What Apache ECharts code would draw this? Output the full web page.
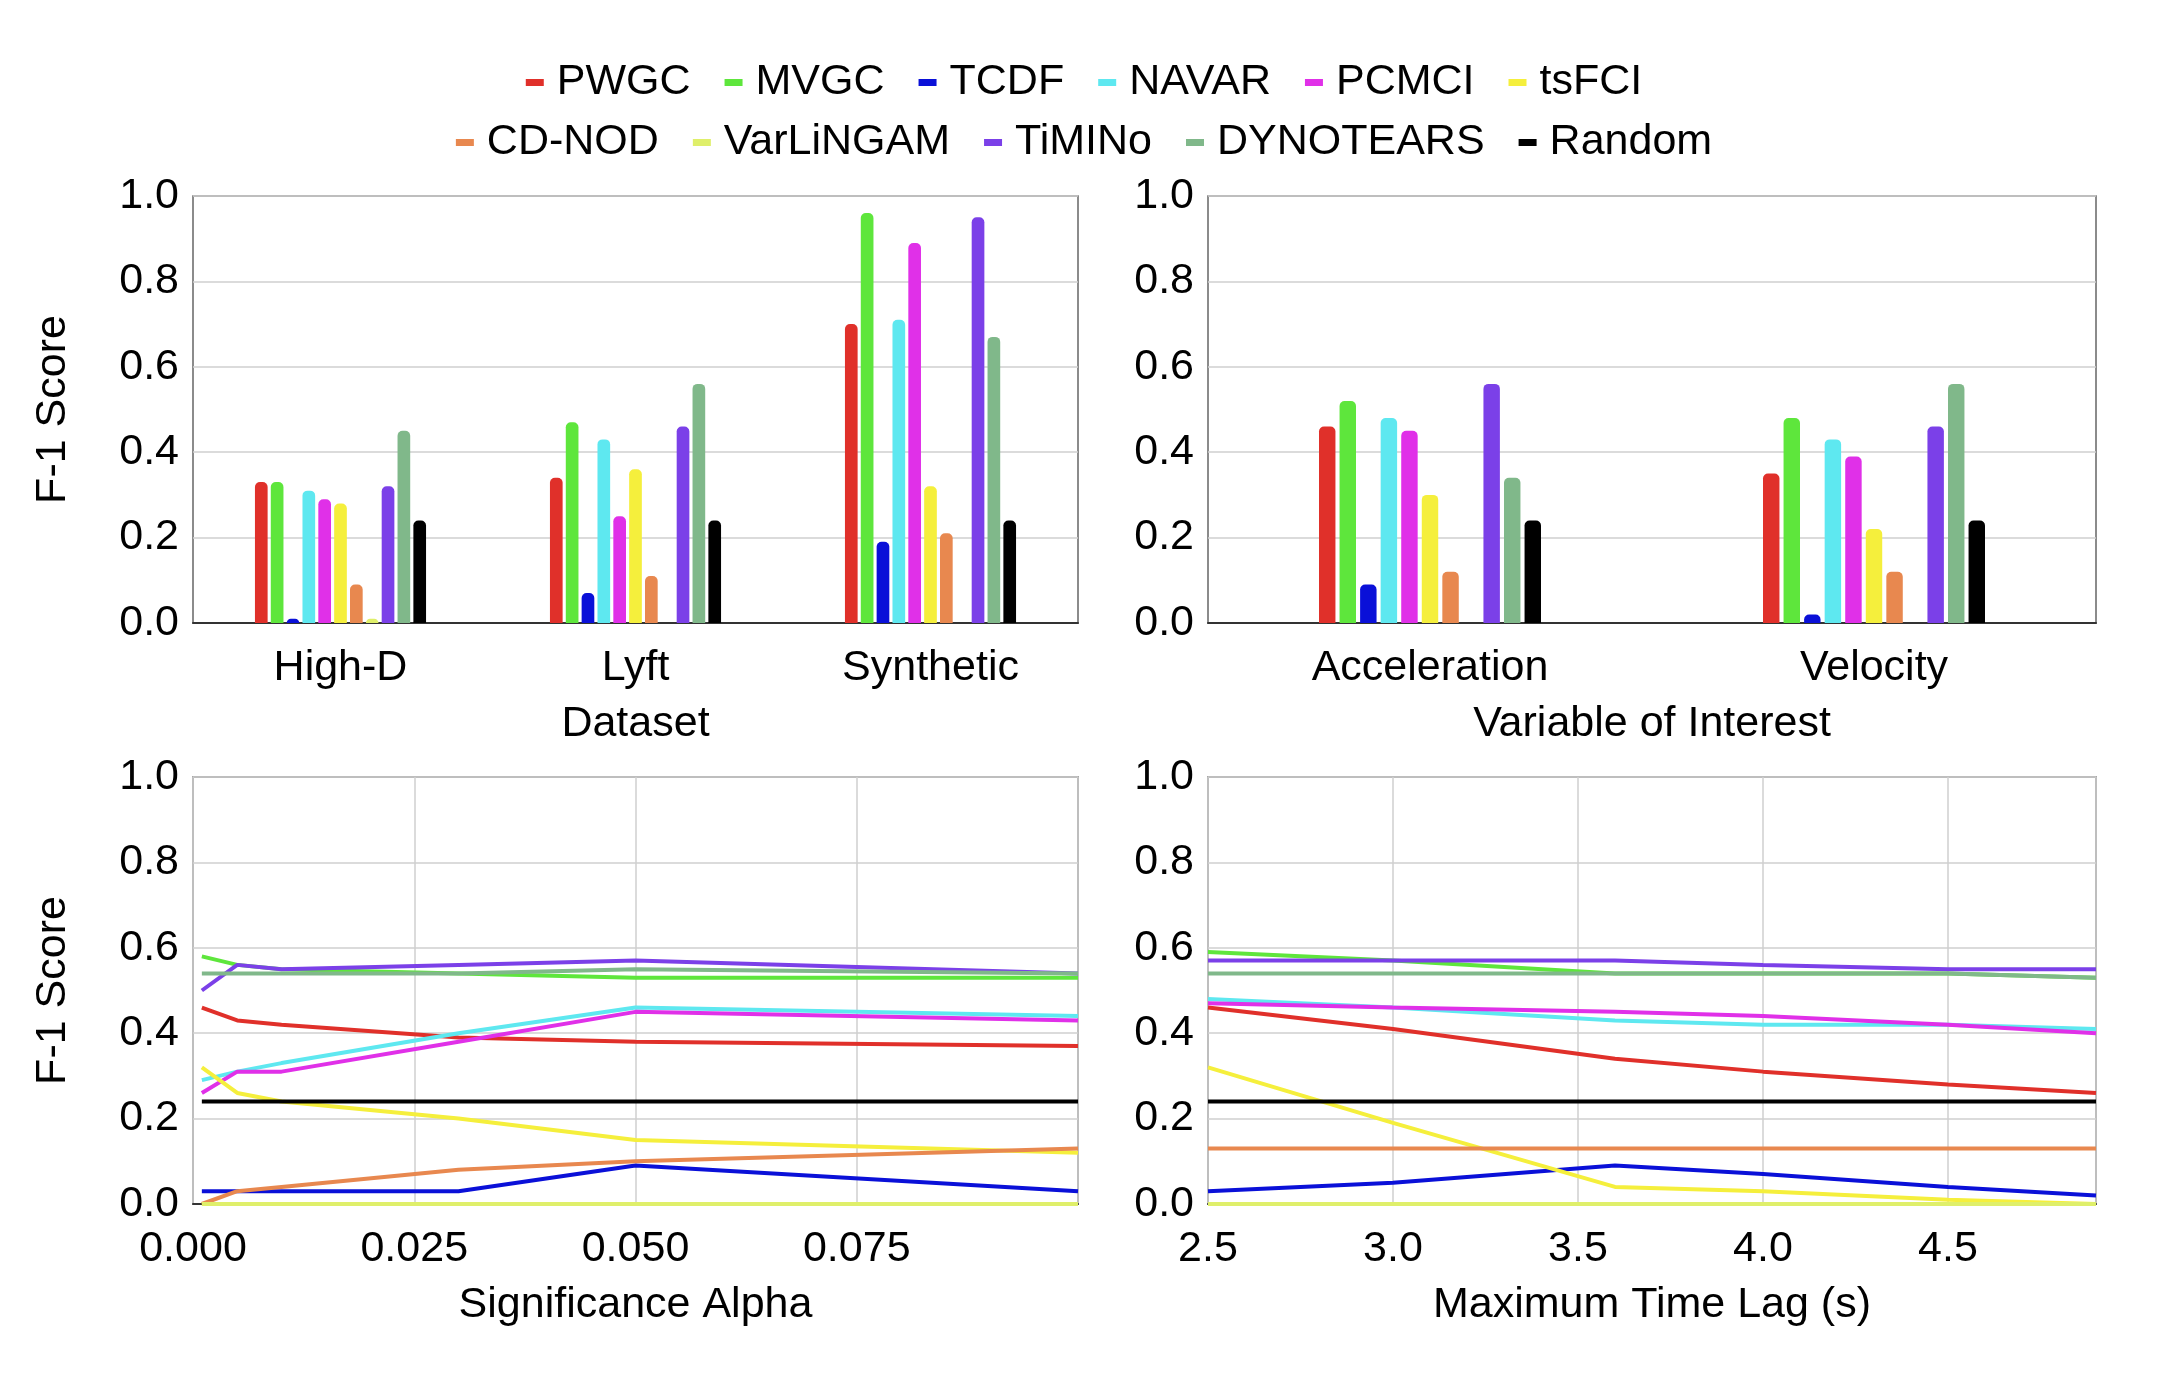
<!DOCTYPE html>
<html>
<head>
<meta charset="utf-8">
<script src="https://cdn.jsdelivr.net/npm/echarts@6/dist/echarts.min.js"></script>
<style>html,body{margin:0;background:#fff}#container{width:2168px;height:1378px}</style>
</head>
<body>
<div id="container"></div>
<script>
const methods = ['PWGC', 'MVGC', 'TCDF', 'NAVAR', 'PCMCI', 'tsFCI', 'CD-NOD', 'VarLiNGAM', 'TiMINo', 'DYNOTEARS', 'Random'];
const colors = ['#e0302a', '#5ee63c', '#0a10d8', '#5ee8f0', '#e030e8', '#f5ef3c', '#e8884f', '#dfef6a', '#7b40e8', '#80b88a', '#000000'];

// top-left: dataset
const datasets = ['High-D', 'Lyft', 'Synthetic'];
const datasetScores = [
    [0.33, 0.34, 0.70],
    [0.33, 0.47, 0.96],
    [0.01, 0.07, 0.19],
    [0.31, 0.43, 0.71],
    [0.29, 0.25, 0.89],
    [0.28, 0.36, 0.32],
    [0.09, 0.11, 0.21],
    [0.01, 0.00, 0.00],
    [0.32, 0.46, 0.95],
    [0.45, 0.56, 0.67],
    [0.24, 0.24, 0.24]
];

// top-right: variable of interest
const variables = ['Acceleration', 'Velocity'];
const variableScores = [
    [0.46, 0.35],
    [0.52, 0.48],
    [0.09, 0.02],
    [0.48, 0.43],
    [0.45, 0.39],
    [0.30, 0.22],
    [0.12, 0.12],
    [0.00, 0.00],
    [0.56, 0.46],
    [0.34, 0.56],
    [0.24, 0.24]
];

// bottom-left: significance alpha
const alphas = [0.001, 0.005, 0.01, 0.03, 0.05, 0.1];
const alphaScores = [
    [0.46, 0.43, 0.42, 0.39, 0.38, 0.37],
    [0.58, 0.56, 0.55, 0.54, 0.53, 0.53],
    [0.03, 0.03, 0.03, 0.03, 0.09, 0.03],
    [0.29, 0.31, 0.33, 0.40, 0.46, 0.44],
    [0.26, 0.31, 0.31, 0.38, 0.45, 0.43],
    [0.32, 0.26, 0.24, 0.20, 0.15, 0.12],
    [0.00, 0.03, 0.04, 0.08, 0.10, 0.13],
    [0.00, 0.00, 0.00, 0.00, 0.00, 0.00],
    [0.50, 0.56, 0.55, 0.56, 0.57, 0.54],
    [0.54, 0.54, 0.54, 0.54, 0.55, 0.54],
    [0.24, 0.24, 0.24, 0.24, 0.24, 0.24]
];

// bottom-right: maximum time lag
const lags = [2.5, 3.0, 3.6, 4.0, 4.5, 4.9];
const lagScores = [
    [0.46, 0.41, 0.34, 0.31, 0.28, 0.26],
    [0.59, 0.57, 0.54, 0.54, 0.54, 0.53],
    [0.03, 0.05, 0.09, 0.07, 0.04, 0.02],
    [0.48, 0.46, 0.43, 0.42, 0.42, 0.41],
    [0.47, 0.46, 0.45, 0.44, 0.42, 0.40],
    [0.32, 0.19, 0.04, 0.03, 0.01, 0.00],
    [0.13, 0.13, 0.13, 0.13, 0.13, 0.13],
    [0.00, 0.00, 0.00, 0.00, 0.00, 0.00],
    [0.57, 0.57, 0.57, 0.56, 0.55, 0.55],
    [0.54, 0.54, 0.54, 0.54, 0.54, 0.53],
    [0.24, 0.24, 0.24, 0.24, 0.24, 0.24]
];

const font = 'Liberation Sans';
const txt = { color: '#000', fontSize: 43, fontFamily: font };

const myChart = echarts.init(document.getElementById('container'), null, { renderer: 'canvas' });

const grids = [
    { left: 193, top: 196, width: 885, height: 427 },
    { left: 1208, top: 196, width: 888, height: 427 },
    { left: 193, top: 777, width: 885, height: 427 },
    { left: 1208, top: 777, width: 888, height: 427 }
].map(g => Object.assign(g, { show: true, borderColor: '#666', borderWidth: 1.5 }));

function yAxis(i, named) {
    return {
        type: 'value', gridIndex: i, min: 0, max: 1, interval: 0.2,
        name: named ? 'F-1 Score' : '', nameLocation: 'middle', nameGap: 118, nameTextStyle: txt,
        axisLabel: Object.assign({}, txt, { formatter: v => v.toFixed(1), margin: 14 }),
        axisLine: { show: false }, axisTick: { show: false },
        splitLine: { lineStyle: { color: '#cfcfcf', width: 1.5 } }
    };
}

const xAxes = [
    { type: 'category', gridIndex: 0, data: datasets, name: 'Dataset' },
    { type: 'category', gridIndex: 1, data: variables, name: 'Variable of Interest' },
    { type: 'value', gridIndex: 2, min: 0, max: 0.1, interval: 0.025, name: 'Significance Alpha',
      axisLabel: { showMaxLabel: false, formatter: v => v.toFixed(3) } },
    { type: 'value', gridIndex: 3, min: 2.5, max: 4.9, interval: 0.5, name: 'Maximum Time Lag (s)',
      axisLabel: { showMaxLabel: false, formatter: v => v.toFixed(1) } }
].map((a, i) => Object.assign(a, {
    nameLocation: 'middle', nameGap: 80, nameTextStyle: txt,
    axisLabel: Object.assign({}, txt, { margin: 24 }, a.axisLabel || {}),
    axisLine: { lineStyle: { color: '#333', width: 2 } },
    axisTick: { show: false },
    splitLine: { show: i >= 2, lineStyle: { color: '#cfcfcf', width: 1.5 } }
}));

const series = [];
methods.forEach((m, k) => {
    series.push({ name: m, type: 'bar', xAxisIndex: 0, yAxisIndex: 0, data: datasetScores[k],
        barCategoryGap: '42%', barGap: '25%', itemStyle: { color: colors[k], borderRadius: [5, 5, 0, 0] } });
    series.push({ name: m, type: 'bar', xAxisIndex: 1, yAxisIndex: 1, data: variableScores[k],
        barCategoryGap: '50%', barGap: '25%', itemStyle: { color: colors[k], borderRadius: [5, 5, 0, 0] } });
    series.push({ name: m, type: 'line', xAxisIndex: 2, yAxisIndex: 2, symbol: 'none',
        data: alphas.map((x, j) => [x, alphaScores[k][j]]), lineStyle: { color: colors[k], width: 4 }, itemStyle: { color: colors[k] } });
    series.push({ name: m, type: 'line', xAxisIndex: 3, yAxisIndex: 3, symbol: 'none',
        data: lags.map((x, j) => [x, lagScores[k][j]]), lineStyle: { color: colors[k], width: 4 }, itemStyle: { color: colors[k] } });
});

const legendBase = {
    icon: 'rect', itemWidth: 18, itemHeight: 7, itemGap: 34, left: 'center',
    textStyle: Object.assign({}, txt, { padding: [0, 0, 0, 8] })
};

const option = {
    color: colors,
    animation: false,
    legend: [
        Object.assign({ top: 56, data: methods.slice(0, 6) }, legendBase),
        Object.assign({ top: 116, data: methods.slice(6) }, legendBase)
    ],
    grid: grids,
    xAxis: xAxes,
    yAxis: [yAxis(0, true), yAxis(1, false), yAxis(2, true), yAxis(3, false)],
    series: series
};

myChart.setOption(option);
window.addEventListener('resize', myChart.resize);
</script>
</body>
</html>
